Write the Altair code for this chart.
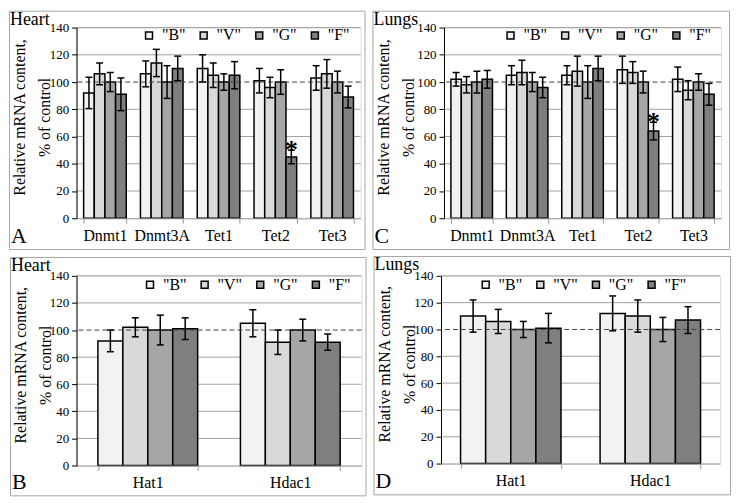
import altair as alt
import pandas as pd

FONT = "Liberation Serif"

SERIES = ['"B"', '"V"', '"G"', '"F"']
COLORS = ["#f2f2f2", "#d9d9d9", "#a6a6a6", "#7f7f7f"]
Y_TICKS = [0, 20, 40, 60, 80, 100, 120, 140]
GRID_VALUES = [20, 40, 60, 80, 120, 140]
REF_LINE = [100]

genes_epi = ["Dnmt1", "Dnmt3A", "Tet1", "Tet2", "Tet3"]
genes_hist = ["Hat1", "Hdac1"]

# Panel A: Heart, epigenetic enzymes
heart_epi_vals = [
    [92, 106, 110, 101, 103],   # "B"
    [106, 114, 105, 96, 106],   # "V"
    [100, 100, 100, 100, 100],  # "G"
    [91, 110, 105, 45, 89],     # "F"
]
heart_epi_err = [
    [11.5, 9.5, 10, 9, 9],
    [8, 10, 9, 7.5, 10.5],
    [7, 12, 6, 9, 8],
    [12, 9, 10, 5, 8],
]
heart_epi_sig = [("Tet2", '"F"')]

# Panel C: Lungs, epigenetic enzymes
lungs_epi_vals = [
    [102, 105, 105, 109, 102],
    [98, 107, 108, 107, 94],
    [100, 100, 100, 100, 100],
    [102, 96, 110, 64, 91],
]
lungs_epi_err = [
    [5, 7, 7, 10, 9],
    [6, 9, 11, 8, 7],
    [8, 7, 12, 8, 6],
    [6.5, 7.5, 9, 6.5, 8],
]
lungs_epi_sig = [("Tet2", '"F"')]

# Panel B: Heart, Hat1 / Hdac1
heart_hist_vals = [
    [92, 105],
    [102, 91],
    [100, 100],
    [101, 91],
]
heart_hist_err = [
    [8, 10],
    [7, 9],
    [11, 8],
    [8, 6],
]

# Panel D: Lungs, Hat1 / Hdac1
lungs_hist_vals = [
    [110, 112],
    [106, 110],
    [100, 100],
    [101, 107],
]
lungs_hist_err = [
    [12, 13],
    [9, 12],
    [6, 9],
    [11, 10],
]


def make_df(genes, vals, errs):
    rows = []
    for s, v, e in zip(SERIES, vals, errs):
        for g, val, err in zip(genes, v, e):
            rows.append(dict(gene=g, series=s, value=val, lo=val - err, hi=val + err))
    return pd.DataFrame(rows)


def panel(genes, vals, errs, sig, organ, letter, L, W, R, T, H, B, pad, legx, legy):
    df = make_df(genes, vals, errs)
    one = pd.DataFrame({"a": [0]})
    y_scale = alt.Scale(domain=[0, 140], nice=False, zero=True)
    x_scale = alt.Scale(paddingInner=pad, paddingOuter=pad / 2)
    xo_scale = alt.Scale(paddingInner=0, paddingOuter=0)

    x_axis = alt.Axis(
        title=None, labelAngle=0, labelFont=FONT, labelFontSize=16, labelColor="black",
        domainColor="#999999", tickColor="#999999", tickSize=5, tickBand="extent",
        labelPadding=4, grid=False, zindex=1,
    )
    y_axis = alt.Axis(
        values=Y_TICKS, grid=False, domainColor="black", tickColor="black", tickSize=5,
        labelFont=FONT, labelFontSize=13, labelColor="black", labelPadding=3,
        title=["Relative mRNA content,", "% of control"], titleFont=FONT, titleFontSize=16,
        titleFontWeight="normal", titleColor="black", titleAngle=270, titleAlign="center",
        titleBaseline="top", titleX=-(L - 3), titleY=H / 2 - 6, titleLineHeight=25,
        zindex=1,
    )

    def Y(field):
        return alt.Y(field, scale=y_scale, axis=y_axis)

    border = alt.Chart(one).mark_rect(
        fill="white", fillOpacity=0, stroke="#a6a6a6", strokeWidth=1
    ).encode(
        x=alt.value(-L + 0.5), x2=alt.value(W + R - 0.5),
        y=alt.value(-T + 0.5), y2=alt.value(H + B - 0.5),
    )

    grid = alt.Chart(pd.DataFrame({"v": GRID_VALUES})).mark_rule(
        color="#a0a0a0", strokeWidth=1
    ).encode(y=Y("v:Q"))

    bars = alt.Chart(df).mark_bar(stroke="black", strokeWidth=1.5).encode(
        x=alt.X("gene:N", sort=genes, scale=x_scale, axis=x_axis),
        xOffset=alt.XOffset("series:N", sort=SERIES, scale=xo_scale),
        y=Y("value:Q"),
        color=alt.Color(
            "series:N", sort=SERIES, scale=alt.Scale(domain=SERIES, range=COLORS),
            legend=alt.Legend(
                title=None, orient="none", legendX=legx, legendY=legy, direction="horizontal",
                symbolType="square", symbolSize=49, symbolStrokeColor="black",
                symbolStrokeWidth=1.5, symbolOpacity=1, labelFont=FONT, labelFontSize=16,
                labelColor="black", columnPadding=10, labelOffset=5,
            ),
        ),
    )

    ref = alt.Chart(pd.DataFrame({"v": REF_LINE})).mark_rule(
        color="#444444", strokeWidth=1, strokeDash=[5, 3]
    ).encode(y=Y("v:Q"))

    xs = dict(
        x=alt.X("gene:N", sort=genes, scale=x_scale, axis=x_axis),
        xOffset=alt.XOffset("series:N", sort=SERIES, scale=xo_scale),
    )
    err_rule = alt.Chart(df).mark_rule(color="black", strokeWidth=1.5).encode(
        y=Y("lo:Q"), y2="hi:Q", **xs
    )
    caps_hi = alt.Chart(df).mark_tick(color="black", thickness=1.5, size=7, opacity=1).encode(
        y=Y("hi:Q"), **xs
    )
    caps_lo = alt.Chart(df).mark_tick(color="black", thickness=1.5, size=7, opacity=1).encode(
        y=Y("lo:Q"), **xs
    )

    layers = [border, grid, bars, ref, err_rule, caps_hi, caps_lo]

    if sig:
        sdf = df[[(g, s) in sig for g, s in zip(df.gene, df.series)]]
        star = alt.Chart(sdf).mark_text(
            text="*", font=FONT, fontSize=26, fontWeight="bold", color="black",
            baseline="alphabetic", dy=8,
        ).encode(y=Y("hi:Q"), **xs)
        layers.append(star)

    organ_txt = alt.Chart(one).mark_text(
        text=organ, font=FONT, fontSize=18, color="black", align="left", baseline="alphabetic"
    ).encode(x=alt.value(-L + 1), y=alt.value(-T + 14))
    letter_txt = alt.Chart(one).mark_text(
        text=letter, font=FONT, fontSize=22, color="black", align="left", baseline="alphabetic"
    ).encode(x=alt.value(-L + 2), y=alt.value(H + B - 7))
    layers += [organ_txt, letter_txt]

    return alt.layer(*layers).properties(width=W, height=H)


pA = panel(genes_epi, heart_epi_vals, heart_epi_err, heart_epi_sig, "Heart", "A",
           68, 286, 5, 17, 192, 32, 0.25, 65, 0)
pC = panel(genes_epi, lungs_epi_vals, lungs_epi_err, lungs_epi_sig, "Lungs", "C",
           72, 279, 9, 17, 192, 32, 0.25, 59, 0)
pB = panel(genes_hist, heart_hist_vals, heart_hist_err, [], "Heart", "B",
           67, 287, 5, 19, 191, 31, 0.30, 66, 1)
pD = panel(genes_hist, lungs_hist_vals, lungs_hist_err, [], "Lungs", "D",
           68, 281, 11, 20, 189, 32, 0.28, 37, 1)


def indep(c):
    return c.resolve_scale(
        x="independent", y="independent", xOffset="independent", color="independent"
    ).resolve_legend(color="independent").resolve_axis(x="independent", y="independent")


top = indep(alt.hconcat(pA, pC, spacing=5))
bottom = indep(alt.hconcat(pB, pD, spacing=5))
chart = indep(alt.vconcat(top, bottom, spacing=4)).properties(
    padding=0
).configure_view(stroke=None).configure(
    background="white", font=FONT
).configure_legend(labelFont=FONT)

chart.save("out.html", embed_options={"renderer": "svg", "actions": False})
